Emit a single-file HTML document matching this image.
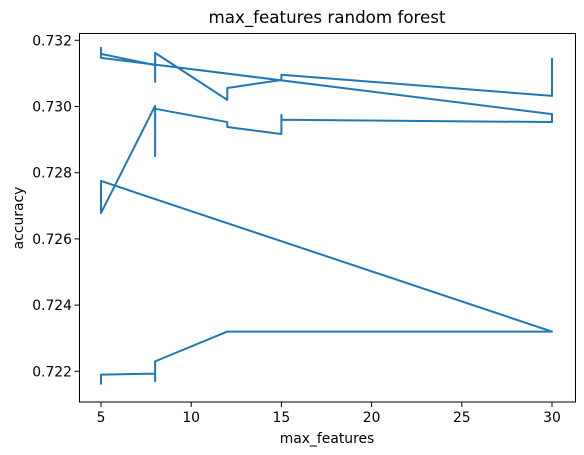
<!DOCTYPE html>
<html><head><meta charset="utf-8"><style>
body{margin:0;background:#fff}
svg{display:block;font-family:"DejaVu Sans","Liberation Sans",sans-serif}
</style></head><body>
<svg id="chart" width="584" height="455">
<rect x="0" y="0" width="584" height="455" fill="#fff"/>
<text x="327" y="23" font-size="16.7" text-anchor="middle">max_features random forest</text>
<text x="327" y="443" font-size="13.9" text-anchor="middle">max_features</text>
<text x="23" y="218" font-size="13.9" text-anchor="middle" transform="rotate(-90 23 218)">accuracy</text>
<g id="ticks"></g>
<polyline id="line" fill="none" stroke="#1f77b4" stroke-width="2" stroke-linejoin="round"/>
<rect x="79.5" y="33.5" width="496" height="368.5" fill="none" stroke="#000" stroke-width="1"/>
</svg>
<script>
const xValues = [5,5,8,8,8,12,15,30,5,5,8,8,8,12,12,15,15,15,30,30,5,5,5,8,8,8,12,12,15,15,30,30];
const yValues = [0.7216,0.7219,0.72193,0.7217,0.7223,0.7232,0.7232,0.7232,0.72775,0.72678,0.73002,0.7285,0.72993,0.72953,0.72938,0.72917,0.72975,0.7296,0.72953,0.72977,0.73147,0.73177,0.73159,0.73125,0.73074,0.73162,0.7302,0.73056,0.7308,0.73096,0.73032,0.73147];
const xTicks = [5,10,15,20,25,30];
const yTicks = [0.722,0.724,0.726,0.728,0.730,0.732];

function xs(v){return 101 + (v-5)*18.04;}
function ys(v){return 371.3 - (v-0.722)*33100;}
const NS="http://www.w3.org/2000/svg";
const g=document.getElementById('ticks');
xTicks.forEach(t=>{
  const l=document.createElementNS(NS,'line');
  l.setAttribute('x1',xs(t));l.setAttribute('x2',xs(t));l.setAttribute('y1',402);l.setAttribute('y2',407);l.setAttribute('stroke','#000');
  
  
  g.appendChild(l);
  const tx=document.createElementNS(NS,'text');
  tx.setAttribute('x',xs(t));tx.setAttribute('y',422);tx.setAttribute('font-size','13.9');tx.setAttribute('text-anchor','middle');
  tx.textContent=t;
  
  
  g.appendChild(tx);
});
yTicks.forEach(t=>{
  const l=document.createElementNS(NS,'line');
  l.setAttribute('x1',74.5);l.setAttribute('x2',79.5);l.setAttribute('y1',ys(t));l.setAttribute('y2',ys(t));l.setAttribute('stroke','#000');
  
  
  g.appendChild(l);
  const tx=document.createElementNS(NS,'text');
  tx.setAttribute('x',72);tx.setAttribute('y',ys(t)+5);tx.setAttribute('font-size','13.9');tx.setAttribute('text-anchor','end');
  tx.textContent=t.toFixed(3);
  
  
  g.appendChild(tx);
});
document.getElementById('line').setAttribute('points', xValues.map((x,i)=>xs(x)+','+ys(yValues[i])).join(' '));
</script>
</body></html>
